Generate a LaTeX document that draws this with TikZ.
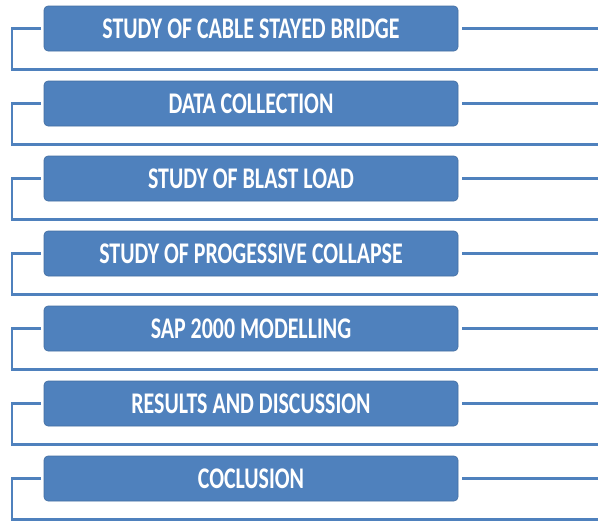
\documentclass[tikz,border=0pt]{standalone}
\usepackage{fontspec}
\newfontfamily\boxfont[FakeStretch=0.73]{Carlito}
\usetikzlibrary{positioning}
\definecolor{stepblue}{HTML}{4F81BD}

\begin{document}
\begin{tikzpicture}[x=1pt,y=1pt,
    stage/.style={draw=stepblue!85!black,line width=0.6pt,fill=stepblue,rounded corners=4pt,
      minimum width=414pt,minimum height=45pt,inner sep=0pt,outer sep=0pt,
      text=white,font=\boxfont\bfseries\fontsize{30}{32}\selectfont},
    link/.style={stepblue,line width=2.4pt}]
    \useasboundingbox (0,0) rectangle (598,-522);
    \node[stage,anchor=north west] at (44,-6) (s1){STUDY OF CABLE STAYED BRIDGE};
    \node[stage,below=30pt of s1](s2){DATA COLLECTION};
    \node[stage,below=30pt of s2](s3){STUDY OF BLAST LOAD};
    \node[stage,below=30pt of s3](s4){STUDY OF PROGESSIVE COLLAPSE};
    \node[stage,below=30pt of s4](s5){SAP 2000 MODELLING};
    \node[stage,below=30pt of s5](s6){RESULTS AND DISCUSSION};
    \node[stage,below=30pt of s6](s7){COCLUSION};
    % right edge of the page
    \coordinate (edge) at (598,0);
    \draw[link]([xshift=4pt]s1.east)--(s1.east-|edge);
    \draw[link]([xshift=4pt]s2.east)--(s2.east-|edge);
    \draw[link]([xshift=4pt]s3.east)--(s3.east-|edge);
    \draw[link]([xshift=4pt]s4.east)--(s4.east-|edge);
    \draw[link]([xshift=4pt]s5.east)--(s5.east-|edge);
    \draw[link]([xshift=4pt]s6.east)--(s6.east-|edge);
    \draw[link]([xshift=4pt]s7.east)--(s7.east-|edge);
    % brackets on the left
    \draw[link]([xshift=-3pt]s1.west)--([xshift=-32pt]s1.west)|-([yshift=-18.5pt]s1.south-|edge);
    \draw[link]([xshift=-3pt]s2.west)--([xshift=-32pt]s2.west)|-([yshift=-18.5pt]s2.south-|edge);
    \draw[link]([xshift=-3pt]s3.west)--([xshift=-32pt]s3.west)|-([yshift=-18.5pt]s3.south-|edge);
    \draw[link]([xshift=-3pt]s4.west)--([xshift=-32pt]s4.west)|-([yshift=-18.5pt]s4.south-|edge);
    \draw[link]([xshift=-3pt]s5.west)--([xshift=-32pt]s5.west)|-([yshift=-18.5pt]s5.south-|edge);
    \draw[link]([xshift=-3pt]s6.west)--([xshift=-32pt]s6.west)|-([yshift=-18.5pt]s6.south-|edge);
    \draw[link]([xshift=-3pt]s7.west)--([xshift=-32pt]s7.west)|-([yshift=-18.5pt]s7.south-|edge);
  \end{tikzpicture}
\end{document}
